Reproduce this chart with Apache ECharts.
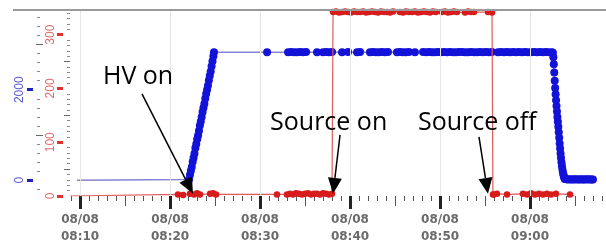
<!DOCTYPE html>
<html><head><meta charset="utf-8">
<script src="https://cdn.jsdelivr.net/npm/echarts@6/dist/echarts.min.js"></script>
<style>html,body{margin:0;padding:0;background:#fff}#c{width:606px;height:245px}</style>
</head><body><div id="c"></div>
<script>
// ---------- data ----------
const dateLabel = '08/08';
const majorTicks = ['08:10','08:20','08:30','08:40','08:50','09:00'];
const axisStart = '08:08:53';
const axisEnd = '09:08:27';
const redTickLabels = [0, 100, 200, 300];
const blueTickLabels = [0, 2000];

const blueTimes = [
 '08:09:40',
 '08:22:07','08:22:13','08:22:19','08:22:25','08:22:31','08:22:37','08:22:43','08:22:49','08:22:55','08:23:01',
 '08:23:07','08:23:13','08:23:19','08:23:25','08:23:31','08:23:37','08:23:43','08:23:49','08:23:55','08:24:01',
 '08:24:07','08:24:13','08:24:19','08:24:25','08:24:31','08:24:37','08:24:43','08:24:49','08:24:53',
 '08:30:47',
 '08:33:07','08:33:27','08:33:47','08:34:07','08:34:27','08:34:47','08:35:07',
 '08:36:20',
 '08:37:00','08:37:20','08:37:40','08:38:00',
 '08:39:07','08:39:47',
 '08:40:47','08:41:07',
 '08:42:13','08:42:33','08:42:53','08:43:13','08:43:33','08:43:53','08:44:13',
 '08:45:13','08:45:33','08:45:53','08:46:13','08:46:33',
 '08:47:13',
 '08:48:07','08:48:27','08:48:47','08:49:07','08:49:27','08:49:47','08:50:07','08:50:27','08:50:47','08:51:07',
 '08:51:27','08:51:47','08:52:07','08:52:27','08:52:47','08:53:07','08:53:27','08:53:47','08:54:07','08:54:27',
 '08:54:47','08:55:07','08:55:27','08:55:47',
 '08:56:27','08:56:47','08:57:07','08:57:27','08:57:47','08:58:07','08:58:27','08:58:47','08:59:07','08:59:27',
 '08:59:47','09:00:07','09:00:27','09:00:47','09:01:07','09:01:27','09:01:47','09:02:07','09:02:27','09:02:33',
 '09:02:36','09:02:39','09:02:42','09:02:45','09:02:48','09:02:51','09:02:54','09:02:57','09:03:00','09:03:03',
 '09:03:06','09:03:09','09:03:12','09:03:15','09:03:18','09:03:21','09:03:24','09:03:27','09:03:30','09:03:33',
 '09:03:36','09:03:39','09:03:42','09:03:45','09:03:48','09:03:51','09:03:53',
 '09:04:03','09:04:13','09:04:23','09:04:33','09:04:43','09:04:53','09:05:03','09:05:13','09:05:23','09:05:33',
 '09:05:43','09:05:53','09:06:03','09:06:13','09:06:23','09:06:33','09:06:43','09:06:53','09:07:00'
];
const blueValues = [
 0,
 15,120,210,290,410,495,590,710,800,905,
 990,1095,1210,1300,1395,1510,1600,1690,1805,1910,
 2000,2095,2210,2310,2400,2520,2630,2740,2830,
 2830,
 2825,2835,2830,2828,2832,2826,2834,
 2830,
 2828,2833,2827,2831,
 2829,2834,
 2826,2832,
 2830,2835,2828,2826,2833,2829,2831,
 2827,2834,2830,2825,2832,
 2829,
 2831,2826,2833,2829,2830,2835,2827,2832,2828,2834,
 2830,2826,2831,2833,2829,2827,2835,2830,2828,2832,
 2826,2834,2829,2831,
 2830,2833,2827,2832,2829,2835,2826,2831,2828,2834,
 2830,2827,2833,2829,2831,2826,2832,2830,2828,2815,
 2720,2560,2380,2200,2040,1900,1770,1640,1520,1400,
 1290,1180,1060,940,810,700,590,490,400,320,
 250,190,140,100,65,40,25,
 20,15,22,18,15,20,17,21,16,19,
 22,17,15,20,18,21,16,19,17
];

const redTimes = [
 '08:08:54',
 '08:20:53','08:21:27','08:22:13','08:22:40','08:23:00','08:23:20','08:24:27','08:24:47','08:25:07','08:31:53',
 '08:33:00','08:33:20','08:33:40','08:34:00','08:34:20','08:34:40','08:35:00','08:35:20','08:35:40','08:36:00',
 '08:36:20','08:36:40','08:37:00','08:37:20','08:37:40','08:38:00',
 '08:38:07','08:38:27','08:38:47','08:39:07','08:39:27','08:39:47','08:40:07','08:40:27','08:40:47','08:41:07',
 '08:41:27','08:41:47','08:42:07','08:42:27','08:42:47','08:43:07','08:43:27','08:43:47','08:44:07','08:44:27','08:44:47',
 '08:45:33','08:45:53','08:46:13','08:46:33','08:46:53','08:47:13','08:47:33','08:47:53','08:48:13','08:48:33',
 '08:48:53','08:49:13','08:49:33',
 '08:50:13','08:50:33','08:50:53','08:51:13','08:51:33','08:51:53',
 '08:52:47','08:53:07','08:53:27','08:53:47',
 '08:55:20','08:55:47',
 '08:55:53','08:56:00','08:56:20','08:57:27','08:59:13','08:59:40','09:00:07','09:00:33','09:01:00','09:01:27',
 '09:01:53','09:02:20','09:02:53','09:04:27','09:04:55'
];
const redValues = [
 0,
 3,2,4,3,5,3,4,5,3,3,
 3,4,3,5,4,3,4,5,3,4,
 4,3,5,4,3,4,
 342,343,341,342,343,342,341,343,342,342,
 343,341,342,343,342,341,343,342,342,341,343,
 342,341,343,342,342,343,341,342,343,342,
 341,343,342,
 342,343,341,342,343,342,
 341,343,342,342,
 342,341,
 3,3,4,3,4,3,5,3,4,3,
 4,3,4,3,0
];

// annotations: event time (data space) + label
const annotationTexts = ['HV on', 'Source on', 'Source off'];
const annotationTimes = ['08:22:33', '08:38:07', '08:55:20'];

// ---------- helpers ----------
function T(s) {
  const p = s.split(':').map(Number);
  return Date.UTC(2020, 7, 8, p[0], p[1], p[2] || 0);
}
function pad(n) { return (n < 10 ? '0' : '') + n; }
function fmt(v) {
  const d = new Date(v);
  return dateLabel + '\n' + pad(d.getUTCHours()) + ':' + pad(d.getUTCMinutes());
}
const majorVals = majorTicks.map(T);
const minuteVals = [], fiveVals = [];
for (let t = T('08:09'); t <= T(axisEnd); t += 60000) {
  const m = new Date(t).getUTCMinutes();
  if (m % 10 === 0) continue;
  if (m % 5 === 0) fiveVals.push(t); else minuteVals.push(t);
}
const redMinor = [];
for (let v = 0; v <= 340; v += 10) if (v % 50 !== 0) redMinor.push(v);
const blueMinor = [];
for (let v = -200; v <= 3600; v += 200) if (v % 1000 !== 0) blueMinor.push(v);

const blueData = blueTimes.map((t, i) => {
  const o = { value: [T(t), blueValues[i]] };
  if (i === 0) o.symbol = 'none';
  return o;
});
const redData = redTimes.map((t, i) => {
  const o = { value: [T(t), redValues[i]] };
  if (i === 0 || i === redTimes.length - 1) o.symbol = 'none';
  return o;
});

// ---------- chart ----------
const chart = echarts.init(document.getElementById('c'), null, { renderer: 'canvas' });
const xBase = {
  type: 'value', min: T(axisStart), max: T(axisEnd), position: 'bottom',
  splitLine: { show: false }, axisLine: { show: false, onZero: false }, axisLabel: { show: false }
};
const redBase = {
  type: 'value', min: 0, max: 344, position: 'left',
  splitLine: { show: false }, axisLine: { show: false, onZero: false }, axisLabel: { show: false }, axisTick: { show: false }
};
const blueBase = {
  type: 'value', min: -348, max: 3739, position: 'left',
  splitLine: { show: false }, axisLine: { show: false, onZero: false }, axisLabel: { show: false }, axisTick: { show: false }
};
const yLabelFont = { fontFamily: 'Liberation Sans', fontSize: 12, formatter: v => String(v) };

chart.setOption({
  animation: false,
  backgroundColor: '#ffffff',
  grid: { left: 70, right: 0, top: 11, bottom: 46, containLabel: false },
  xAxis: [
    Object.assign({}, xBase, { axisTick: { show: true, customValues: minuteVals, length: 5, lineStyle: { color: '#555', width: 1 } } }),
    Object.assign({}, xBase, { axisTick: { show: true, customValues: fiveVals, length: 10, lineStyle: { color: '#555', width: 1 } } }),
    Object.assign({}, xBase, {
      axisTick: { show: true, customValues: majorVals, length: 13, lineStyle: { color: '#222', width: 3 } },
      axisLabel: { show: true, customValues: majorVals, formatter: fmt, color: '#6b6b6b',
        fontFamily: 'DejaVu Sans', fontWeight: 'bold', fontSize: 12, lineHeight: 17, margin: 15 }
    })
  ],
  yAxis: [
    Object.assign({}, redBase, {
      axisTick: { show: true, customValues: redMinor, length: 3, lineStyle: { color: '#888' } },
      axisLabel: Object.assign({ show: true, customValues: redTickLabels, rotate: 90, color: '#e06a6a', margin: 13 }, yLabelFont)
    }),
    Object.assign({}, blueBase, {
      offset: 30,
      axisTick: { show: true, customValues: blueMinor, length: 3, lineStyle: { color: '#888' } },
      axisLabel: Object.assign({ show: true, customValues: blueTickLabels, rotate: 90, color: '#5b5bd0', margin: 14 }, yLabelFont)
    }),
    Object.assign({}, redBase, { axisTick: { show: true, customValues: [50, 150, 250], length: 6, lineStyle: { color: '#666' } } }),
    Object.assign({}, redBase, { offset: 7, axisTick: { show: true, customValues: redTickLabels, length: 6, lineStyle: { color: '#e03030', width: 3 } } }),
    Object.assign({}, blueBase, { offset: 27, axisTick: { show: true, customValues: [1000, 3000], length: 7, lineStyle: { color: '#666' } } }),
    Object.assign({}, blueBase, { offset: 37, axisTick: { show: true, customValues: blueTickLabels, length: 6, lineStyle: { color: '#2020c0', width: 3 } } })
  ],
  series: [
    {
      type: 'line', name: 'blue', xAxisIndex: 0, yAxisIndex: 1, data: blueData,
      symbol: 'circle', symbolSize: 8, z: 2,
      itemStyle: { color: '#1212d8' },
      lineStyle: { color: '#8585d2', width: 1.5 },
      markLine: {
        silent: true, symbol: 'none', label: { show: false },
        lineStyle: { color: '#e6e6e6', type: 'solid', width: 1 },
        data: majorVals.map(v => ({ xAxis: v }))
      }
    },
    {
      type: 'line', name: 'red', xAxisIndex: 0, yAxisIndex: 0, data: redData,
      symbol: 'circle', symbolSize: 6.5, z: 3,
      itemStyle: { color: '#d81b1b' },
      lineStyle: { color: '#e25a5a', width: 1.2 }
    }
  ]
});

// annotations anchored on the event times (red axis baseline)
const textOffsets = [[-90, -117], [-63, -71], [-70, -71]];
const startOffsets = [[-51, -100], [7, -59], [-9, -57]];
const graphics = [{
  type: 'line', z: 100, silent: true,
  shape: { x1: 13, y1: 10, x2: 606, y2: 10 },
  style: { stroke: '#9a9a9a', lineWidth: 2 }
}];
annotationTimes.forEach((ts, i) => {
  const tip = chart.convertToPixel({ xAxisIndex: 0, yAxisIndex: 0 }, [T(ts), 4]);
  const sx = tip[0] + startOffsets[i][0], sy = tip[1] + startOffsets[i][1];
  const dx = tip[0] - sx, dy = tip[1] - sy, len = Math.hypot(dx, dy);
  const ux = dx / len, uy = dy / len;
  const L = 16, W = 7;
  const bx = tip[0] - L * ux, by = tip[1] - L * uy;
  graphics.push({
    type: 'line', z: 100, silent: true,
    shape: { x1: sx, y1: sy, x2: bx, y2: by },
    style: { stroke: '#000', lineWidth: 1.5 }
  });
  graphics.push({
    type: 'polygon', z: 100, silent: true,
    shape: { points: [[tip[0], tip[1]], [bx - W * uy, by + W * ux], [bx + W * uy, by - W * ux]] },
    style: { fill: '#000' }
  });
  graphics.push({
    type: 'text', z: 100, silent: true,
    x: tip[0] + textOffsets[i][0], y: tip[1] + textOffsets[i][1],
    style: { text: annotationTexts[i], fill: '#000', font: '25px "Open Sans"', verticalAlign: 'middle', align: 'left' }
  });
});
chart.setOption({ graphic: graphics });
</script>
</body></html>
